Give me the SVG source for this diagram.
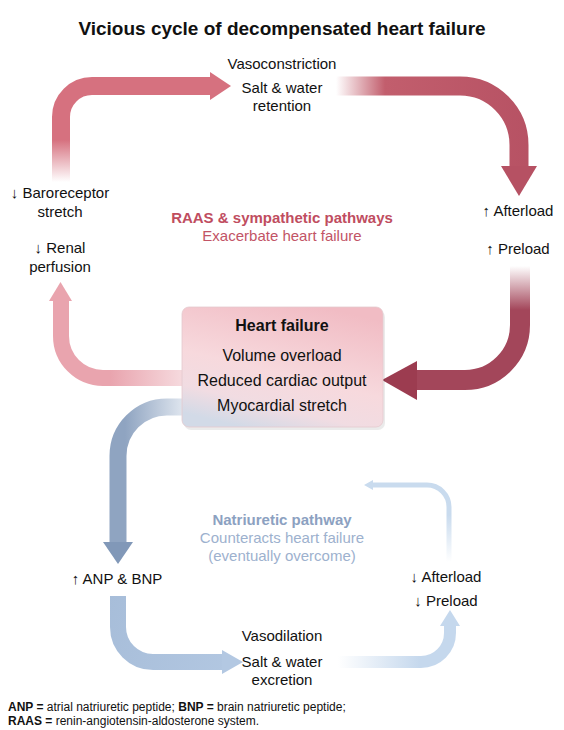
<svg xmlns="http://www.w3.org/2000/svg" width="564" height="730" viewBox="0 0 564 730">
<style>
text{font-family:"Liberation Sans",Arial,sans-serif;fill:#111;}
.t{font-size:19px;font-weight:bold;text-anchor:middle;}
.l{font-size:15px;text-anchor:middle;}
.b{font-size:16px;text-anchor:middle;}
.bh{font-size:16px;font-weight:bold;text-anchor:middle;}
.rh{font-size:15px;font-weight:bold;text-anchor:middle;fill:#c04d5f;}
.rs{font-size:15px;text-anchor:middle;fill:#c25466;}
.nh{font-size:15px;font-weight:bold;text-anchor:middle;fill:#8ca1c1;}
.ns{font-size:15px;text-anchor:middle;fill:#9db1ce;}
.f{font-size:12px;}
.c{fill:none;stroke-linecap:butt;}
</style>
<defs>
<linearGradient id="gTL" gradientUnits="userSpaceOnUse" x1="0" y1="182" x2="0" y2="140"><stop offset="0" stop-color="#ffffff"/><stop offset="1" stop-color="#d6717f"/></linearGradient>
<linearGradient id="gTR" gradientUnits="userSpaceOnUse" x1="336" y1="0" x2="540" y2="0"><stop offset="0" stop-color="#ffffff"/><stop offset="0.24" stop-color="#c25e6d"/><stop offset="1" stop-color="#b65163"/></linearGradient>
<linearGradient id="gRB" gradientUnits="userSpaceOnUse" x1="0" y1="266" x2="0" y2="310"><stop offset="0" stop-color="#ffffff"/><stop offset="1" stop-color="#a3465a"/></linearGradient>
<linearGradient id="gLP" gradientUnits="userSpaceOnUse" x1="184" y1="0" x2="110" y2="0"><stop offset="0" stop-color="#f6dbdf"/><stop offset="1" stop-color="#e9a4ae"/></linearGradient>
<linearGradient id="gBL" gradientUnits="userSpaceOnUse" x1="186" y1="0" x2="125" y2="0"><stop offset="0" stop-color="#e3e9f1"/><stop offset="1" stop-color="#8fa4c1"/></linearGradient>
<linearGradient id="gBB" gradientUnits="userSpaceOnUse" x1="0" y1="596" x2="240" y2="680"><stop offset="0" stop-color="#9fb6d3"/><stop offset="1" stop-color="#b3c8e2"/></linearGradient>
<linearGradient id="gBR" gradientUnits="userSpaceOnUse" x1="338" y1="0" x2="420" y2="0"><stop offset="0" stop-color="#ffffff"/><stop offset="1" stop-color="#c5d8ed"/></linearGradient>
<linearGradient id="gTN" gradientUnits="userSpaceOnUse" x1="0" y1="562" x2="0" y2="515"><stop offset="0" stop-color="#ffffff"/><stop offset="1" stop-color="#c9dbee"/></linearGradient>
<linearGradient id="gBox" x1="0.7" y1="0" x2="0.3" y2="1"><stop offset="0" stop-color="#f1bcc4"/><stop offset="0.55" stop-color="#f7d9dd"/><stop offset="0.8" stop-color="#f1dce2"/><stop offset="1" stop-color="#d2dae7"/></linearGradient>
</defs>
<rect width="564" height="730" fill="#ffffff"/>
<text class="t" x="282" y="35">Vicious cycle of decompensated heart failure</text>

<g id="connectors">
<path class="c" d="M61,182 V117 A31,31 0 0 1 92,86 H212" stroke="url(#gTL)" stroke-width="18"/>
<polygon points="210,72 231,86 210,100" fill="#d6717f"/>
<path class="c" d="M336,86 H460 A59,59 0 0 1 519,145 V168" stroke="url(#gTR)" stroke-width="19"/>
<polygon points="501,166 537,166 519,196" fill="#b65163"/>
<path class="c" d="M520,266 V325 A55,55 0 0 1 465,380 H415" stroke="url(#gRB)" stroke-width="20"/>
<polygon points="417,361 417,400 382,380" fill="#9c3c50"/>
<path class="c" d="M184,378 H103 A42,42 0 0 1 61,336 V299" stroke="url(#gLP)" stroke-width="16"/>
<polygon points="49,301 72,301 60.5,282" fill="#e9a4ae"/>
<path class="c" d="M186,407 H167 A49,49 0 0 0 118,456 V544" stroke="url(#gBL)" stroke-width="17"/>
<polygon points="103,542 133,542 118,564" fill="#8198b8"/>
<path class="c" d="M118,596 V627 A35,35 0 0 0 153,662 H223" stroke="url(#gBB)" stroke-width="16"/>
<polygon points="222,650 222,674 243,662" fill="#b3c8e2"/>
<path class="c" d="M338,662 H421 A29,29 0 0 0 450,633 V624" stroke="url(#gBR)" stroke-width="12"/>
<polygon points="440,626 460,626 450,610" fill="#c5d8ed"/>
<path class="c" d="M449,562 V507 A22,22 0 0 0 427,485 H372" stroke="url(#gTN)" stroke-width="5"/>
<polygon points="373,480 373,490 364,485" fill="#c9dbee"/>
</g>

<g id="heart-failure">
<rect x="184" y="310" width="201" height="120" rx="7" fill="#000" opacity="0.08"/>
<rect x="182" y="307" width="201" height="120" rx="7" fill="url(#gBox)" stroke="#e4c9ce" stroke-width="0.8"/>
<text class="bh" x="282" y="331">Heart failure</text>
<text class="b" x="282" y="361">Volume overload</text>
<text class="b" x="282" y="386">Reduced cardiac output</text>
<text class="b" x="282" y="411">Myocardial stretch</text>
</g>

<g id="vasoconstriction">
<text class="l" x="282" y="69">Vasoconstriction</text>
<text class="l" x="282" y="93">Salt &amp; water</text>
<text class="l" x="282" y="111">retention</text>
</g>

<g id="afterload-up">
<text class="l" x="518" y="216">↑ Afterload</text>
<text class="l" x="518" y="254">↑ Preload</text>
</g>

<g id="baroreceptor">
<text class="l" x="60" y="198">↓ Baroreceptor</text>
<text class="l" x="60" y="217">stretch</text>
<text class="l" x="60" y="253">↓ Renal</text>
<text class="l" x="60" y="272">perfusion</text>
</g>

<g id="raas">
<text class="rh" x="282" y="223">RAAS &amp; sympathetic pathways</text>
<text class="rs" x="282" y="241">Exacerbate heart failure</text>
</g>

<g id="natriuretic">
<text class="nh" x="282" y="525">Natriuretic pathway</text>
<text class="ns" x="282" y="543">Counteracts heart failure</text>
<text class="ns" x="282" y="561">(eventually overcome)</text>
</g>

<g id="anp-bnp">
<text class="l" x="117" y="584">↑ ANP &amp; BNP</text>
</g>

<g id="afterload-down">
<text class="l" x="446" y="582">↓ Afterload</text>
<text class="l" x="446" y="606">↓ Preload</text>
</g>

<g id="vasodilation">
<text class="l" x="282" y="641">Vasodilation</text>
<text class="l" x="282" y="667">Salt &amp; water</text>
<text class="l" x="282" y="685">excretion</text>
</g>

<g id="footnote">
<text class="f" x="8" y="711"><tspan font-weight="bold">ANP =</tspan> atrial natriuretic peptide; <tspan font-weight="bold">BNP =</tspan> brain natriuretic peptide;</text>
<text class="f" x="8" y="725"><tspan font-weight="bold">RAAS =</tspan> renin-angiotensin-aldosterone system.</text>
</g>
</svg>
